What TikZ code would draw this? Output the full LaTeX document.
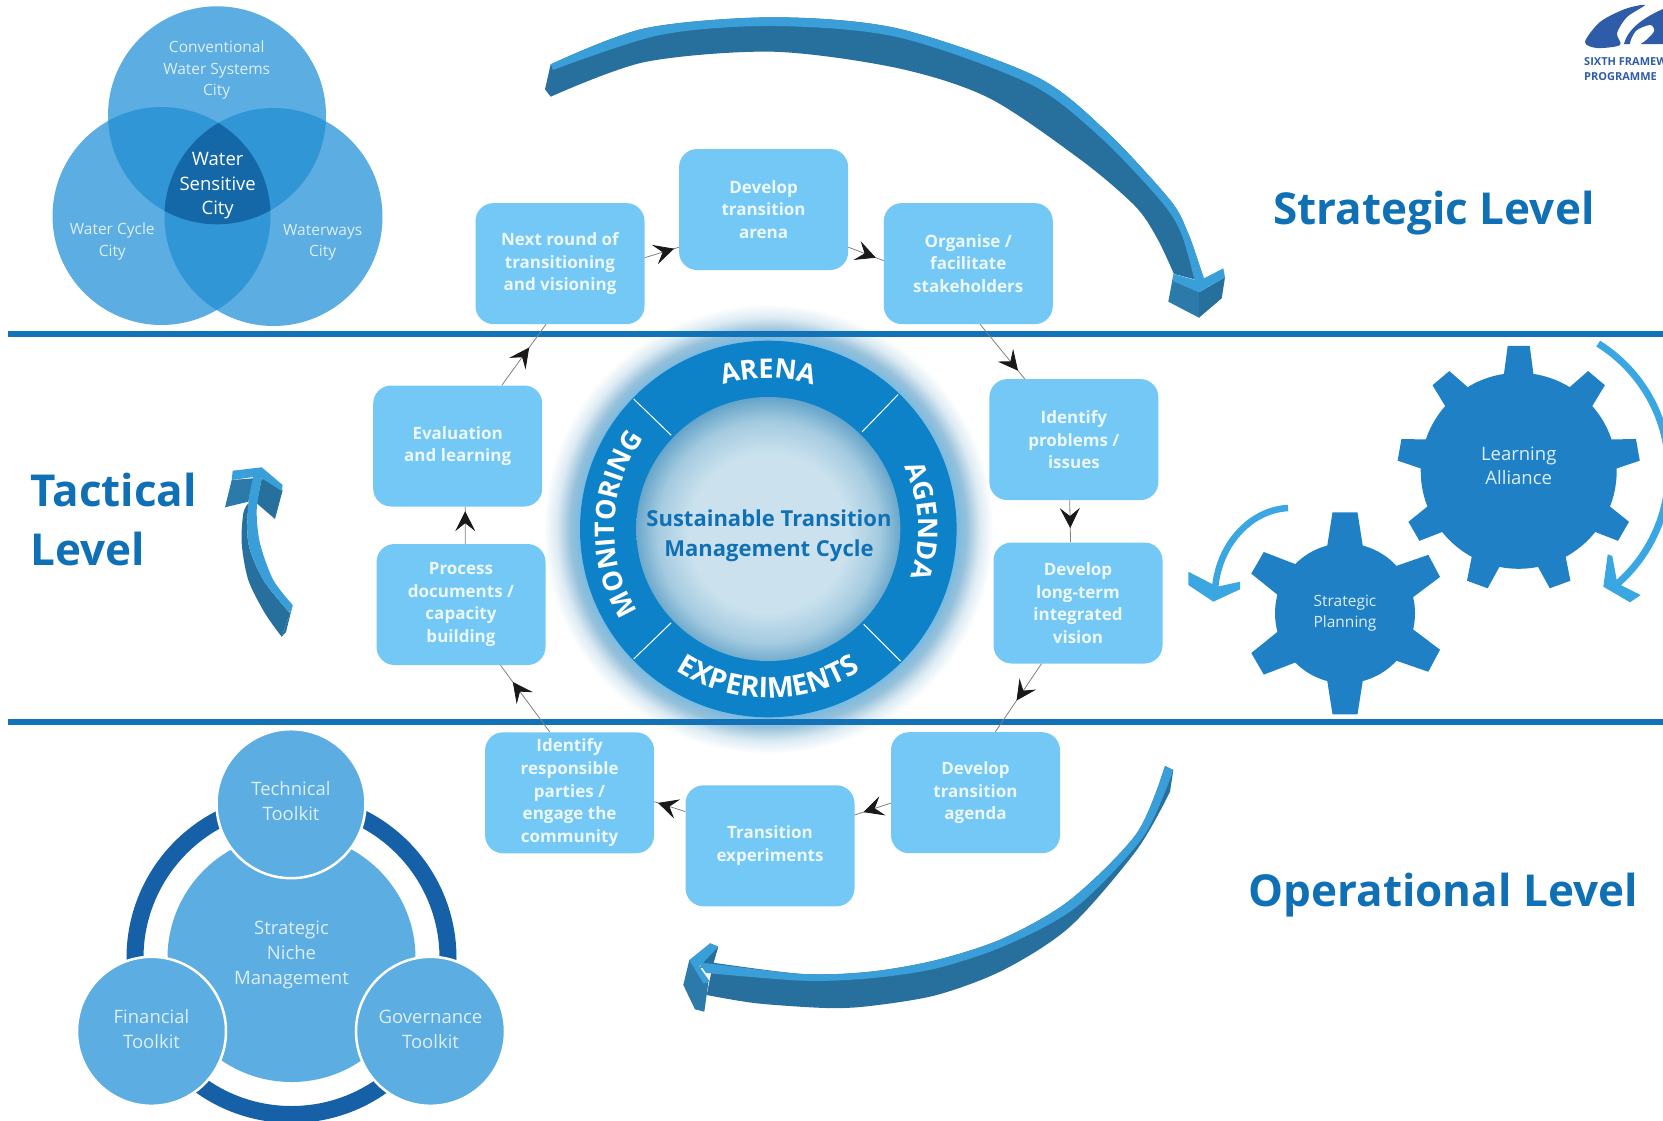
\documentclass[tikz,border=0pt]{standalone}
\usepackage{fontspec}
\setmainfont{Open Sans}
\usetikzlibrary{arrows.meta, decorations.markings, decorations.text}

\definecolor{rule}{HTML}{1272B8}
\definecolor{cardblue}{HTML}{73C8F5}
\definecolor{cardtext}{HTML}{EDF8FE}
\definecolor{hubring}{HTML}{0E82C8}
\definecolor{hubcore}{HTML}{CBE2EE}
\definecolor{hubedge}{HTML}{5D9FC6}
\definecolor{title}{HTML}{1070B6}
\definecolor{bandlight}{HTML}{3A9FD8}
\definecolor{banddark}{HTML}{276F9C}
\definecolor{bandmid}{HTML}{2C7AAA}
\definecolor{disc}{HTML}{5CADE1}
\definecolor{disctwo}{HTML}{3096D6}
\definecolor{discthree}{HTML}{1568A8}
\definecolor{disctext}{HTML}{DCEFFA}
\definecolor{toolring}{HTML}{1660A8}
\definecolor{gearblue}{HTML}{1F80C6}
\definecolor{spin}{HTML}{3AA6E2}
\definecolor{logoblue}{HTML}{2F5CA8}

\pgfdeclareradialshading{hubglow}{\pgfpoint{0bp}{0bp}}{
  color(0bp)=(hubring!55!white); color(20.9bp)=(hubring!55!white); color(22bp)=(hubedge!65!white);
  color(23.5bp)=(hubedge!22!white); color(25bp)=(white); color(50bp)=(white)}
\pgfdeclareradialshading{hubinner}{\pgfpoint{0bp}{-1bp}}{
  color(0bp)=(hubcore); color(15bp)=(hubcore); color(21bp)=(hubcore!65!hubedge); color(26bp)=(hubedge); color(50bp)=(hubedge)}

\begin{document}
\begin{tikzpicture}[x=1pt, y=-1pt]

  \tikzstyle{card}=[rounded corners=18pt, fill=cardblue, text=cardtext, align=center,
    minimum width=169pt, minimum height=121pt, inner sep=0pt,
    font=\fontsize{17}{22.7}\selectfont\bfseries]
  \tikzstyle{flow}=[draw=black!50, line width=0.8pt, postaction={decorate},
    decoration={markings, mark=at position #1 with
      {\arrow{Stealth[length=20pt, width=20pt, inset=8pt, color=black!90]}}}]
  \tikzstyle{level}=[text=title, align=left, font=\fontsize{44}{59}\selectfont\bfseries]
  \tikzstyle{ringtext}=[decorate, decoration={text along path, text align=center, text color=white,
    text={#1}}]
  \tikzstyle{venntext}=[text=disctext, align=center, font=\fontsize{15.5}{21.5}\selectfont]
  \tikzstyle{disk}=[circle, fill=disc, draw=white, line width=2.5pt, text=disctext, align=center,
    minimum size=149pt, inner sep=0pt, text depth=6pt, font=\fontsize{18.5}{25}\selectfont]
  \tikzstyle{gear}=[circle, fill=gearblue, text=disctext, align=center, inner sep=0pt]
  \tikzstyle{spinline}=[draw=spin, line width=7pt]

  \useasboundingbox (0,0) rectangle (1663,1120);

  \coordinate (hub) at (768.3,529);
  \coordinate (venntop) at (217,115.3);
  \coordinate (vennleft) at (161.5,216);
  \coordinate (vennright) at (273.5,217);
  \coordinate (toolhub) at (291.5,958);

  \shade [shading=hubglow] (hub) circle (225pt);

  \draw [rule, line width=6pt] (7.5,333.7) coordinate (ruleA) -- (1663,333.7) coordinate (ruleB);
  \draw [rule, line width=6pt] (7.5,722.3) coordinate (ruleC) -- (1663,722.3) coordinate (ruleD);

  \fill [hubring] (hub) circle (188.3pt);
  \shade [shading=hubinner] (hub) circle (132pt);
  \begin{scope}[shift={(hub)}, x=1pt, y=1pt]
    \foreach \ang in {46,136,224,315}
      \draw [white, line width=1pt] (\ang:135pt) -- (\ang:187pt);
    \path [ringtext={|\fontsize{27}{27}\selectfont\bfseries|ARENA}] (140:151pt) arc (140:40:151pt);
    \path [ringtext={|\fontsize{27}{27}\selectfont\bfseries|AGENDA}] (53:150pt) arc (53:-47:150pt);
    \path [ringtext={|\fontsize{27}{27}\selectfont\bfseries|MONITORING}] (228:154pt) arc (228:128:154pt);
    \path [ringtext={|\fontsize{28.5}{28}\selectfont\bfseries|EXPERIMENTS}] (220:169pt) arc (220:320:169pt);
  \end{scope}
  \node [text=title, align=center, font=\fontsize{22}{30}\selectfont\bfseries] (cycle) at (769,536)
    {Sustainable Transition\\Management Cycle};

  \node [card] (arena) at (763.6,209.5) {Develop\\transition\\arena};
  \node [card] (next) at (560,263.6) {Next round of\\transitioning\\and visioning};
  \node [card] (organise) at (968.3,263.6) {Organise /\\facilitate\\stakeholders};
  \node [card] (problems) at (1073.9,439.6) {Identify\\problems /\\issues};
  \node [card] (vision) at (1078,603) {Develop\\long-term\\integrated\\vision};
  \node [card] (agenda) at (975.5,792.7) {Develop\\transition\\agenda};
  \node [card] (trials) at (770,845.8) {Transition\\experiments};
  \node [card] (parties) at (569.6,792.8) {Identify\\responsible\\parties /\\engage the\\community};
  \node [card] (process) at (461,604.5) {Process\\documents /\\capacity\\building};
  \node [card] (evaluation) at (457.7,446) {Evaluation\\and learning};

  \draw [flow=0.86] (next.4) -- (arena.204);
  \draw [flow=0.78] (arena.-24) -- (organise.178);
  \draw [flow=0.85] (organise.-79) -- (problems.129);
  \draw [flow=0.66] (problems.-94) -- (vision.97);
  \draw [flow=0.54] (vision.239) -- (agenda.72);
  \draw [flow=0.76] (agenda.187) -- (trials.20);
  \draw [flow=0.88] (trials.158) -- (parties.-6);
  \draw [flow=0.75] (parties.108) -- (process.-57);
  \draw [flow=0.88] (process.86) -- (evaluation.-83);
  \draw [flow=0.62] (evaluation.54) -- (next.257);

  \fill [banddark] plot [smooth] coordinates {(550.7,96.7) (645,62) (773,51.7) (897,68) (989,98) (1081,160) (1135,206) (1157,238) (1174,274)}
    -- plot [smooth] coordinates {(1205,282) (1200,267) (1188,233) (1170,200) (1105,130) (1035,76) (897,28.3) (773,17.3) (645,28.3) (550.7,64.3)}
    -- (545,89.3) -- cycle;
  \fill [bandmid] (1173.3,275) -- (1168.3,301.7) -- (1199,317.7) -- (1199,292.3) -- cycle;
  \fill [banddark] (1199,292.3) -- (1199,317.7) -- (1221.7,298.3) -- (1225,277.3) -- cycle;
  \fill [bandlight] plot [smooth] coordinates {(550.7,64.3) (645,28.3) (773,17.3) (897,28.3) (1035,76) (1105,130) (1170,200) (1188,233) (1200,267) (1205,282)}
    -- plot [smooth] coordinates {(1195,282) (1181,233) (1160,200) (1100,137) (1030,84) (897,37) (773,26) (660,35) (553,70)} -- cycle;
  \fill [bandlight] (1173.3,274) -- (1199,281) -- (1223.3,268.3) -- (1225,277.3) -- (1199,292.3) -- (1172.7,281) -- cycle;

  \fill [banddark] plot [smooth] coordinates {(1165,766) (1136.7,833.3) (1070,900) (1003.3,938.3) (936.7,960) (870,971.7) (803.3,974) (713.3,962.7)}
    -- (706.7,995) -- plot [smooth] coordinates {(706.7,995) (756.7,1003.3) (826.7,1008) (870,1006) (936.7,995) (1003.3,970) (1070,926.7) (1136.7,850) (1170,791.7)} -- (1173.3,770) -- cycle;
  \fill [bandmid] (689.3,960) -- (683.3,985) -- (695,1009.3) -- (704.3,1011.7) -- (708.3,983.3) -- (700,968) -- cycle;
  \fill [banddark] (710,943.3) -- (718.3,946.7) -- (713,965) -- (700,968) -- cycle;
  \fill [bandlight] plot [smooth] coordinates {(1165,766) (1136.7,833.3) (1070,900) (1003.3,938.3) (936.7,960) (870,971.7) (803.3,974) (713.3,964) (699,963)}
    -- plot [smooth] coordinates {(706,973) (803.3,980.7) (870,978.3) (936.7,968.3) (1006.7,945) (1076.7,906.7) (1143.3,836.7) (1173.3,770)} -- cycle;
  \fill [bandlight] (710,943.3) -- (718.3,946.7) -- (699.3,966.7) -- (710,981.7) -- (703.3,983.3) -- (689.3,960) -- cycle;

  \fill [banddark] plot [smooth] coordinates {(248.3,503.3) (243.3,513.3) (241.7,543.3) (248.3,580) (265,613.3) (281.7,636.7)}
    -- plot [smooth] coordinates {(290,613.3) (263.3,580) (248.3,543.3) (248.3,503.3)} -- cycle;
  \fill [banddark] (290,613.3) -- (281.7,636.7) -- (286,632) -- (292.7,605) -- cycle;
  \fill [bandmid] (231.7,480) -- (225,507.3) -- (248.3,501.7) -- (253.3,478.3) -- cycle;
  \fill [banddark] (261.7,478.3) -- (256.7,503.3) -- (275,519) -- (282.7,490) -- cycle;
  \fill [bandlight] plot [smooth] coordinates {(292.7,605) (273.3,580) (260,543.3) (256.7,510) (261.7,478.3)}
    -- (281.7,491) -- (282.7,485) -- (261.7,467.3) -- (232.7,470.7) -- (231.7,480) -- (253.3,477)
    -- plot [smooth] coordinates {(253.3,477) (248.3,503.3) (248.3,543.3) (263.3,580) (290,613.3)} -- cycle;

  \node [level, anchor=west] (strategic) at (1270,213) {Strategic Level};
  \node [level, anchor=west] (operational) at (1245,895) {Operational Level};
  \node [level, anchor=west] (tactical) at (27,519) {Tactical\\Level};

  \fill [disc] (venntop) circle (109pt);
  \fill [disc] (vennleft) circle (109pt);
  \fill [disc] (vennright) circle (109pt);
  \begin{scope}
    \clip (venntop) circle (109pt);
    \fill [disctwo] (vennleft) circle (109pt);
    \fill [disctwo] (vennright) circle (109pt);
    \clip (vennleft) circle (109pt);
    \fill [discthree] (vennright) circle (109pt);
  \end{scope}
  \begin{scope}
    \clip (vennleft) circle (109pt);
    \fill [disctwo] (vennright) circle (109pt);
    \clip (venntop) circle (109pt);
    \fill [discthree] (vennright) circle (109pt);
  \end{scope}
  \node [venntext] (conventional) at (216.7,70) {Conventional\\Water Systems\\City};
  \node [venntext] (cyclecity) at (112.3,241.5) {Water Cycle\\City};
  \node [venntext] (waterways) at (322.7,242.5) {Waterways\\City};
  \node [venntext, text=white, font=\fontsize{18.5}{24.5}\selectfont] (sensitive) at (217.7,186) {Water\\Sensitive\\City};

  \draw [toolring, line width=17pt] (toolhub) circle (156.5pt);
  \node [disk, draw=none, minimum size=248pt, text depth=10pt] (niche) at (toolhub) {Strategic\\Niche\\Management};
  \node [disk] (technical) at (291,803.7) {Technical\\Toolkit};
  \node [disk, text depth=4pt] (financial) at (151.5,1031.3) {Financial\\Toolkit};
  \node [disk, text depth=4pt] (governance) at (430.5,1031.3) {Governance\\Toolkit};

  \node [gear, minimum size=196pt, text depth=10pt, font=\fontsize{18.5}{24.7}\selectfont] (alliance) at (1518.7,470.8) {Learning\\Alliance};
  \node [gear, minimum size=140pt, font=\fontsize{15.5}{20.7}\selectfont] (planning) at (1345,613.3) {Strategic\\Planning};
  \foreach \ang/\tip in {90/125,50/121,10/121,-30/121,-70/121,-110/121,-150/121,170/121,130/121}
    \fill [gearblue, shift={(alliance.center)}, rotate=\ang] (95,-15) -- (\tip,-11) -- (\tip,11) -- (95,15) -- cycle;
  \foreach \ang in {90,28,-28,-90,-150,150}
    \fill [gearblue, shift={(planning.center)}, rotate=\ang] (66,-18) -- (101,-12.5) -- (101,12.5) -- (66,18) -- cycle;

  \begin{scope}[shift={(alliance.center)}, x=1pt, y=1pt]
    \draw [spinline] (58:150pt) arc (58:-50:150pt);
  \end{scope}
  \fill [spin] (1603.3,586.7) -- (1607.7,554.3) -- (1612.3,556) -- (1617.3,583.3) -- (1640.7,595) -- (1630,602.3) -- cycle;
  \draw [spinline, line width=6.5pt] (1288,508) .. controls (1250,510) and (1218,545) .. (1215,590);
  \fill [spin] (1188.3,571.7) -- (1188.3,585) -- (1213.3,601.7) -- (1240,589.3) -- (1240,581.7) -- (1217.3,586.7) -- cycle;

  \fill [logoblue] plot [smooth cycle] coordinates {(1585,42) (1600,22) (1625,9) (1645,5) (1627,17) (1617,33) (1620,45) (1597,48)};
  \fill [logoblue] (1624,44) .. controls (1628,28) and (1645,17) .. (1663,9) -- (1663,44) -- cycle;
  \fill [white] plot [smooth cycle] coordinates {(1630,44) (1636,31) (1650,25) (1654,31) (1646,40) (1638,45)};
  \node [text=logoblue, anchor=west, inner sep=0pt, align=left, font=\fontsize{11}{15}\selectfont\bfseries] (logotext) at (1584,69)
    {SIXTH FRAMEW\\PROGRAMME};
\end{tikzpicture}
\end{document}
